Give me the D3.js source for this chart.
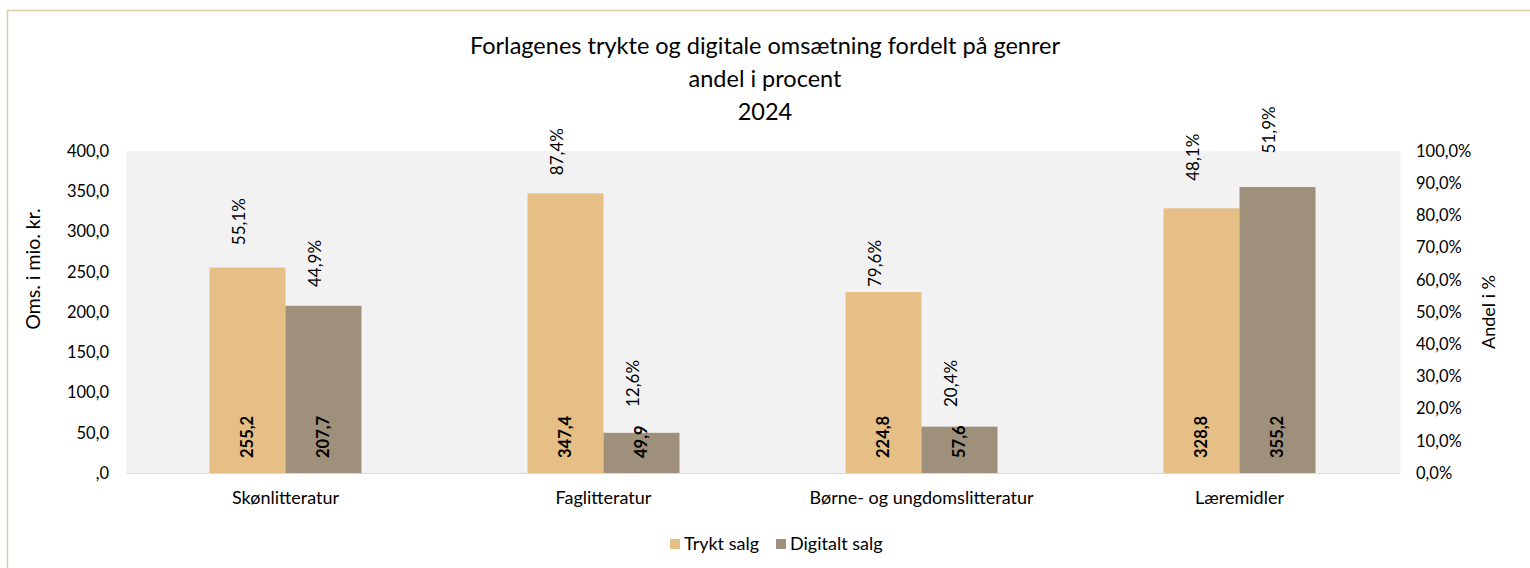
<!DOCTYPE html>
<html lang="da">
<head>
    <meta charset="UTF-8">
    <title>Forlagenes trykte og digitale omsætning</title>
    <script src="https://d3js.org/d3.v7.min.js"></script>
    <style>
        body {
            margin: 0;
            padding: 0;
            background-color: #fff;
            font-family: Lato, "Open Sans", sans-serif;
        }
        svg text { fill: #000; }
        .axis path, .axis line { display: none; }
    </style>
</head>
<body>
    <div id="chart"></div>

    <script>
        // Data
        const categories = ["Skønlitteratur", "Faglitteratur", "Børne- og ungdomslitteratur", "Læremidler"];
        const seriesNames = ["Trykt salg", "Digitalt salg"];
        const trykt = [255.2, 347.4, 224.8, 328.8];      // mio. kr.
        const digitalt = [207.7, 49.9, 57.6, 355.2];     // mio. kr.
        const andelTrykt = [55.1, 87.4, 79.6, 48.1];     // procent
        const andelDigitalt = [44.9, 12.6, 20.4, 51.9];  // procent
        // height (in mio. kr.) where each percentage label sits in the original
        const andelLabelAtTrykt = [283, 370, 231, 363];
        const andelLabelAtDigitalt = [231, 82, 82, 397];
        const leftTicks = [0, 50, 100, 150, 200, 250, 300, 350, 400];
        const rightTicks = [0, 10, 20, 30, 40, 50, 60, 70, 80, 90, 100];
        const titleLines = ["Forlagenes trykte og digitale omsætning fordelt på genrer", "andel i procent", "2024"];

        const W = 1530, H = 568;
        const colors = ["#e5bf86", "#9e907a"];
        const plot = {left: 126.5, right: 1398.5, top: 151, bottom: 473};

        // left axis prints ",0" for zero, the right axis "0,0%"
        const fmt = v => {
            const s = v.toFixed(1).replace(".", ",");
            return s.startsWith("0,") ? s.slice(1) : s;
        };
        const fmtPct = v => v.toFixed(1).replace(".", ",") + "%";

        const svg = d3.select("#chart").append("svg")
            .attr("width", W)
            .attr("height", H);

        // outer frame
        svg.append("rect")
            .attr("x", 7.5).attr("y", 10.5)
            .attr("width", W).attr("height", H)
            .attr("fill", "none")
            .attr("stroke", "#d6cda9")
            .attr("stroke-width", 1.5);

        // plot background
        svg.append("rect")
            .attr("x", plot.left).attr("y", plot.top)
            .attr("width", plot.right - plot.left + 2)
            .attr("height", plot.bottom - plot.top)
            .attr("fill", "#f2f2f2");

        const x = d3.scaleBand()
            .domain(categories)
            .range([plot.left, plot.right])
            .paddingInner(0.522)
            .paddingOuter(0.261);

        const xs = d3.scaleBand()
            .domain(seriesNames)
            .range([0, x.bandwidth()]);

        const y = d3.scaleLinear().domain([0, 400]).range([plot.bottom, plot.top]);
        const y2 = d3.scaleLinear().domain([0, 100]).range([plot.bottom, plot.top]);

        // baseline
        svg.append("line")
            .attr("x1", plot.left).attr("x2", plot.right + 2)
            .attr("y1", plot.bottom + 0.5).attr("y2", plot.bottom + 0.5)
            .attr("stroke", "#d9d9d9");

        // axes
        svg.append("g")
            .attr("class", "axis")
            .attr("transform", "translate(109,0)")
            .call(d3.axisLeft(y).tickValues(leftTicks).tickFormat(fmt).tickSize(0).tickPadding(0))
            .selectAll("text")
            .style("font-size", "16.5px")
            .style("font-family", "Lato, sans-serif");

        svg.append("g")
            .attr("class", "axis")
            .attr("transform", "translate(1416,0)")
            .call(d3.axisRight(y2).tickValues(rightTicks).tickFormat(fmtPct).tickSize(0).tickPadding(0))
            .selectAll("text")
            .style("font-size", "16.5px")
            .style("font-family", "Lato, sans-serif");

        svg.append("g")
            .attr("class", "axis")
            .attr("transform", `translate(0,${plot.bottom + 18})`)
            .call(d3.axisBottom(x).tickSize(0).tickPadding(0))
            .selectAll("text")
            .style("font-size", "18px")
            .style("font-family", "Lato, sans-serif");

        // axis titles
        svg.append("text")
            .attr("transform", "translate(40,269) rotate(-90)")
            .attr("text-anchor", "middle")
            .style("font-size", "19.5px")
            .text("Oms. i mio. kr.");

        svg.append("text")
            .attr("transform", "translate(1495,312) rotate(-90)")
            .attr("text-anchor", "middle")
            .style("font-size", "18px")
            .text("Andel i %");

        // title
        svg.append("g").selectAll("text")
            .data(titleLines)
            .join("text")
            .attr("x", 765)
            .attr("y", (d, i) => 54 + i * 33)
            .attr("text-anchor", "middle")
            .style("font-size", "23.5px")
            .text(d => d);

        // bars
        const rows = categories.map((c, i) => [
            {cat: c, key: seriesNames[0], value: trykt[i], pct: andelTrykt[i], at: andelLabelAtTrykt[i]},
            {cat: c, key: seriesNames[1], value: digitalt[i], pct: andelDigitalt[i], at: andelLabelAtDigitalt[i]}
        ]).flat();

        const bx = d => x(d.cat) + xs(d.key);
        const bc = d => bx(d) + xs.bandwidth() / 2;

        svg.append("g").selectAll("rect")
            .data(rows)
            .join("rect")
            .attr("x", bx)
            .attr("y", d => y(d.value))
            .attr("width", xs.bandwidth())
            .attr("height", d => y(0) - y(d.value))
            .attr("fill", (d, i) => colors[i % 2]);

        // value labels inside bars
        svg.append("g").selectAll("text")
            .data(rows)
            .join("text")
            .attr("transform", d => `translate(${bc(d)},${y(0) - 15}) rotate(-90)`)
            .attr("dy", "0.35em")
            .style("font-size", "16.5px")
            .style("font-weight", "bold")
            .text(d => fmt(d.value));

        // percentage labels above bars
        svg.append("g").selectAll("text")
            .data(rows)
            .join("text")
            .attr("transform", d => `translate(${bc(d) - 8},${y(d.at)}) rotate(-90)`)
            .attr("dy", "0.35em")
            .style("font-size", "17px")
            .text(d => fmtPct(d.pct));

        // legend
        const legend = svg.append("g").attr("transform", "translate(670,544)");
        const items = legend.selectAll("g")
            .data(seriesNames)
            .join("g")
            .attr("transform", (d, i) => `translate(${i * 106},0)`);
        items.append("rect")
            .attr("x", 0).attr("y", -5)
            .attr("width", 10).attr("height", 10)
            .attr("fill", (d, i) => colors[i]);
        items.append("text")
            .attr("x", 14)
            .attr("dy", "0.35em")
            .style("font-size", "18px")
            .text(d => d);
    </script>
</body>
</html>
